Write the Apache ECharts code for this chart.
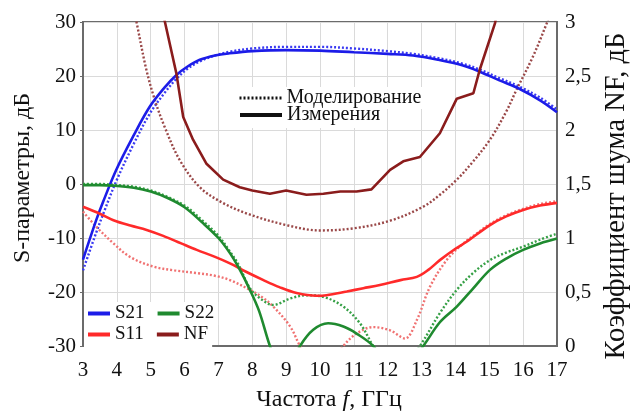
<!DOCTYPE html>
<html>
<head>
<meta charset="utf-8">
<script src="https://cdn.jsdelivr.net/npm/echarts@6/dist/echarts.min.js"></script>
<style>
html,body{margin:0;padding:0;background:#fff;}
#chart{width:634px;height:412px;}
</style>
</head>
<body>
<div id="chart"></div>
<script>
// ---- axis ticks ----
var xTicks = [3,4,5,6,7,8,9,10,11,12,13,14,15,16,17];
var sTicks = [-30,-20,-10,0,10,20,30];
var nfTicks = [0,0.5,1,1.5,2,2.5,3];

// ---- data [frequency GHz, value] ----
var s21Meas = [[3,-14],[3.39,-6.7],[3.6,-3.2],[3.98,2.6],[4.48,8.8],[4.97,14.3],[5.4,17.8],[5.76,20.2],[6.1,21.8],[6.45,23],[6.9,23.8],[7.33,24.2],[8,24.6],[9,24.8],[10,24.7],[11,24.4],[12,24.1],[12.75,23.8],[13.5,23],[14.2,22],[14.72,20.8],[15.3,19.2],[15.9,17.6],[16.5,15.5],[17,13.3]];
var s21Sim = [[3,-16],[3.39,-9],[3.6,-5.5],[3.98,0.5],[4.48,7.2],[4.97,13],[5.4,16.8],[5.76,19.5],[6.1,21.4],[6.45,22.7],[6.9,23.8],[7.33,24.5],[8,25.1],[9,25.4],[10,25.4],[11,25.1],[12,24.6],[12.75,24.1],[13.5,23.3],[14.2,22.3],[14.72,21.2],[15.3,19.6],[15.9,18],[16.5,16],[17,13.8]];
var s11Meas = [[3,-4.2],[3.5,-5.5],[3.9,-6.7],[4.4,-7.7],[4.88,-8.5],[5.37,-9.6],[5.9,-11],[6.36,-12.2],[6.9,-13.5],[7.34,-14.7],[7.8,-16.2],[8.33,-17.8],[8.8,-19.1],[9.31,-20.2],[9.9,-20.7],[10.19,-20.6],[10.79,-19.9],[11.28,-19.3],[11.77,-18.7],[12.38,-17.8],[12.86,-17.2],[13.2,-15.9],[13.54,-14.1],[14.0,-12],[14.33,-10.7],[15.02,-7.6],[15.5,-6],[16,-4.8],[16.5,-4],[17,-3.5]];
var s11Sim = [[3,-5.1],[3.39,-7.9],[3.9,-11],[4.39,-13.5],[5.08,-15.3],[5.7,-16],[6.36,-16.5],[6.9,-17],[7.34,-17.8],[7.93,-19.6],[8.3,-21],[8.62,-22.7],[9.12,-26.4],[9.41,-30],[10,-36],[10.69,-30],[11.08,-27.7],[11.57,-26.5],[12.07,-27.1],[12.51,-28.6],[12.86,-25.2],[13.25,-19],[13.74,-14.1],[14.23,-11],[14.6,-9.3],[15.02,-7.4],[15.5,-5.8],[16,-4.6],[16.5,-3.7],[17,-3.2]];
var s22Meas = [[3,-0.2],[3.5,-0.2],[3.9,-0.3],[4.5,-0.7],[5,-1.4],[5.5,-2.6],[6,-4.3],[6.5,-7],[7,-10],[7.34,-12.8],[7.6,-15.5],[7.93,-19.6],[8.2,-23.5],[8.52,-30],[8.9,-36],[9.41,-30],[9.8,-27],[10.24,-25.8],[10.69,-26.4],[11.08,-27.7],[11.57,-30],[12.3,-36],[13.05,-30],[13.54,-25.6],[14.04,-22.7],[14.5,-19.5],[15.02,-15.9],[15.5,-13.8],[16,-12.2],[16.5,-11],[17,-10.1]];
var s22Sim = [[3,0],[3.5,0],[4,-0.2],[4.5,-0.5],[5,-1.2],[5.5,-2.4],[6,-4],[6.5,-6.6],[7,-9.6],[7.34,-12.5],[7.6,-15],[7.93,-19.3],[8.3,-21.5],[8.62,-22.4],[9.12,-21.2],[9.61,-20.6],[10.1,-20.9],[10.69,-22.7],[11.18,-25.8],[11.57,-30],[12.2,-36],[12.95,-30],[13.54,-23.9],[14.04,-19.6],[14.5,-16.6],[15.02,-14.1],[15.5,-12.7],[16,-11.6],[16.5,-10.3],[17,-9.2]];
var nfMeas = [[5.3,3.2],[5.42,3.0],[5.76,2.52],[5.96,2.12],[6.25,1.91],[6.64,1.69],[7.14,1.54],[7.63,1.47],[8.0,1.44],[8.52,1.41],[9.0,1.44],[9.6,1.40],[10.1,1.41],[10.6,1.43],[11.08,1.43],[11.52,1.45],[12.07,1.63],[12.46,1.71],[12.95,1.75],[13.54,1.97],[14.04,2.29],[14.53,2.34],[14.72,2.56],[15.17,2.99],[15.3,3.2]];
var nfSim = [[4.48,3.15],[4.58,3.0],[4.87,2.56],[5.12,2.28],[5.41,2.03],[5.86,1.72],[6.45,1.47],[7.1,1.33],[7.9,1.22],[9.0,1.12],[10,1.07],[11,1.09],[12.07,1.16],[13.05,1.29],[13.54,1.40],[14.04,1.54],[14.5,1.70],[15.02,1.91],[15.5,2.17],[15.8,2.37],[16.29,2.68],[16.7,2.99],[16.85,3.12]];

// ---- text ----
var legendNames = ['S21','S22','S11','NF'];
var styleNames = ['Моделирование','Измерения'];
var xName = ['Частота ','f',', ГГц'];
var yLeftName = 'S-параметры, дБ';
var yRightName = 'Коэффициент шума NF, дБ';

var FONT = "'Liberation Serif','Times New Roman',serif";
var DOT = [2,2];

function line(name, data, color, dotted, yIdx, smooth){
  return {
    name: name, type: 'line', data: data, yAxisIndex: yIdx || 0,
    symbol: 'none', smooth: smooth === undefined ? 0.35 : smooth, clip: true,
    lineStyle: {color: color, width: dotted ? 2.4 : 2.6, type: dotted ? DOT : 'solid'},
    itemStyle: {color: color}, z: dotted ? 2 : 3, silent: true
  };
}

var chart = echarts.init(document.getElementById('chart'), null, {renderer:'canvas'});
var option = {
  backgroundColor: '#fff',
  animation: false,
  grid: {left: 83, right: 77, top: 22, bottom: 66, show: true, borderColor: '#6b6b6b', borderWidth: 2,
         backgroundColor: 'transparent', containLabel: false, outerBoundsMode: 'none'},
  xAxis: {
    type: 'value', min: xTicks[0], max: xTicks[xTicks.length-1], interval: 1,
    axisLine: {show: true, onZero: false, lineStyle: {color: '#6b6b6b', width: 2}},
    axisTick: {show: false},
    splitLine: {show: true, lineStyle: {color: '#dadada', width: 1}},
    axisLabel: {color: '#111', fontFamily: FONT, fontSize: 21, margin: 14},
    name: '{a|' + xName[0] + '}{b|' + xName[1] + '}{a|' + xName[2] + '}',
    nameLocation: 'middle', nameGap: 42,
    nameTextStyle: {padding: [0, 0, 0, 18], rich: {
      a: {fontFamily: FONT, fontSize: 24, color: '#111'},
      b: {fontFamily: FONT, fontSize: 24, color: '#111', fontStyle: 'italic'}
    }}
  },
  yAxis: [{
    type: 'value', min: sTicks[0], max: sTicks[sTicks.length-1], interval: 10,
    axisLine: {show: true, onZero: false, lineStyle: {color: '#6b6b6b', width: 2}},
    axisTick: {show: true, length: 3, lineStyle: {color: '#6b6b6b'}},
    splitLine: {show: true, lineStyle: {color: '#dadada', width: 1}},
    axisLabel: {color: '#111', fontFamily: FONT, fontSize: 21, margin: 7},
    name: yLeftName, nameLocation: 'middle', nameGap: 48,
    nameTextStyle: {fontFamily: FONT, fontSize: 24, color: '#111', padding: [0, 0, 0, 12]}
  },{
    type: 'value', min: nfTicks[0], max: nfTicks[nfTicks.length-1], interval: 0.5, position: 'right',
    axisLine: {show: true, onZero: false, lineStyle: {color: '#6b6b6b', width: 2}},
    axisTick: {show: false},
    splitLine: {show: false},
    axisLabel: {color: '#111', fontFamily: FONT, fontSize: 21, margin: 8,
      formatter: function(v){ return String(v).replace('.', ','); }},
    name: yRightName, nameLocation: 'middle', nameGap: 45,
    nameTextStyle: {fontFamily: FONT, fontSize: 28.5, color: '#111', padding: [0, 24, 0, 0]}
  }],
  legend: [{
    data: [legendNames[0], legendNames[1]], left: 84, top: 302, orient: 'horizontal',
    icon: 'rect', itemWidth: 22, itemHeight: 4, itemGap: 13,
    padding: [2, 4, 2, 4], backgroundColor: '#fff',
    textStyle: {fontFamily: FONT, fontSize: 19, color: '#111'}, selectedMode: false
  },{
    data: [legendNames[2], legendNames[3]], left: 84, top: 323, orient: 'horizontal',
    icon: 'rect', itemWidth: 22, itemHeight: 4, itemGap: 13,
    padding: [2, 4, 4, 4], backgroundColor: '#fff',
    textStyle: {fontFamily: FONT, fontSize: 19, color: '#111'}, selectedMode: false
  },{
    data: [styleNames[0]], left: 236, top: 87, itemWidth: 42, itemHeight: 14,
    padding: [1, 3, 1, 2], backgroundColor: '#fff',
    itemStyle: {opacity: 0}, lineStyle: {width: 3},
    textStyle: {fontFamily: FONT, fontSize: 20, color: '#111'}, selectedMode: false
  },{
    data: [styleNames[1]], left: 236, top: 104, itemWidth: 42, itemHeight: 14,
    padding: [1, 3, 3, 2], backgroundColor: '#fff',
    itemStyle: {opacity: 0}, lineStyle: {width: 4},
    textStyle: {fontFamily: FONT, fontSize: 20, color: '#111'}, selectedMode: false
  }],
  series: [
    line('S21 sim', s21Sim, '#3a3af2', true),
    line('S11 sim', s11Sim, '#f07272', true),
    line('S22 sim', s22Sim, '#36a046', true),
    line('NF sim', nfSim, '#9a4848', true, 1),
    line('S21', s21Meas, '#1c1ce8', false),
    line('S11', s11Meas, '#ff2a2a', false),
    line('S22', s22Meas, '#1f8a2f', false),
    line('NF', nfMeas, '#8a1c1c', false, 1, false),
    {name: styleNames[0], type: 'line', data: [], symbol: 'none',
     lineStyle: {color: '#111', width: 3, type: DOT}, itemStyle: {color: '#111'}},
    {name: styleNames[1], type: 'line', data: [], symbol: 'none',
     lineStyle: {color: '#111', width: 4, type: 'solid'}, itemStyle: {color: '#111'}}
  ]
};
chart.setOption(option);
</script>
</body>
</html>
